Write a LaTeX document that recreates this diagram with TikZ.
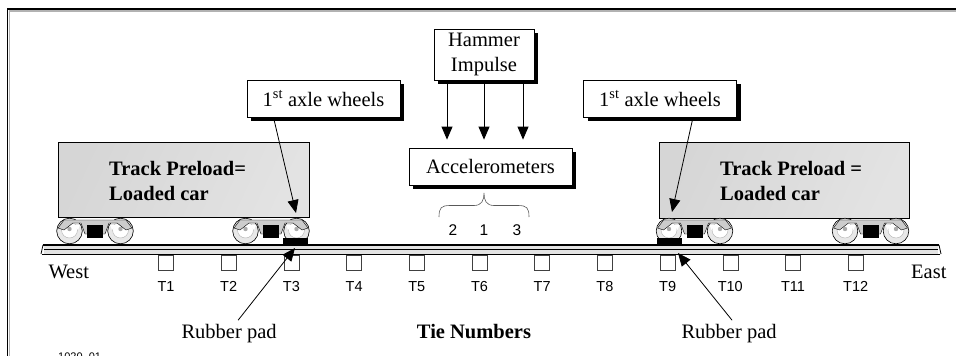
\documentclass[tikz,border=0pt]{standalone}
\usepackage{fontspec}
\setmainfont{Liberation Serif}
\newfontfamily\arialfont{Liberation Sans}
\usetikzlibrary{arrows.meta,calc,positioning,shadows}
\tikzset{
    mybox/.style={draw=black,fill=white,line width=0.8pt,inner sep=0pt,
      drop shadow={shadow xshift=4pt,shadow yshift=-4pt,fill=black,opacity=1}},
    mycar/.style={draw=black,line width=0.6pt,left color=gray!32,middle color=gray!4,
      right color=gray!22,shading angle=65,inner sep=0pt,anchor=north west},
    mytie/.style={draw=black!75,fill=white,line width=0.6pt,minimum size=15pt,inner sep=0pt},
    mypad/.style={fill=black,inner sep=0pt,minimum width=25pt,minimum height=6pt},
    myarrow/.style={-{Triangle[length=13pt,width=11pt]},line width=0.8pt},
    serif/.style={font=\fontsize{20.5}{25}\selectfont},
    boldtext/.style={font=\fontsize{20.5}{25}\selectfont\bfseries},
    sans/.style={font=\arialfont\fontsize{14.5}{17}\selectfont},
    bogie/.pic={
      \foreach \s in {-1,1}{
        \draw[fill=gray!18,line width=0.6pt] (\s*25.5,0) circle (12.8pt);
        \draw[fill=white,draw=gray!60] (\s*25.5,-1) circle (8pt);
        \fill[gray!65] (\s*25.5,-2) circle (2.2pt);
      }
      \filldraw[fill=gray!40,draw=black,line width=0.4pt]
        (-37,-3) -- (-31,-11) -- (31,-11) -- (37,-3) -- (31,-1) -- (22,-8) -- (14,-8)
        -- (10,3) -- (-10,3) -- (-14,-8) -- (-22,-8) -- (-31,-1) -- cycle;
      \fill[white] (-21,-6) -- (-15,-6) -- (-17,-1) -- cycle;
      \fill[white] (21,-6) -- (15,-6) -- (17,-1) -- cycle;
      \fill[black] (-8,-6) rectangle (8,7);
    }
}

\begin{document}
\begin{tikzpicture}[x=1pt,y=-1pt]
  \useasboundingbox (0,0) rectangle (956,356);

  % frame
  \draw[gray!60,line width=1.2pt] (9.5,356) -- (9.5,11) -- (956,11);
  \draw[line width=1.5pt] (7.5,356) -- (7.5,9) -- (956,9);

  % loaded cars
  \node[mycar,minimum width=251pt,minimum height=75pt] (carW) at (58,142) {};
  \node[mycar,minimum width=250pt,minimum height=76pt] (carE) at (659,142) {};
  \node[boldtext,align=left,inner sep=0pt,anchor=north west] (loadW)
    at (109,161) {Track Preload=\\Loaded car};
  \node[boldtext,align=left,inner sep=0pt,anchor=north west] (loadE)
    at (720,161) {Track Preload =\\Loaded car};

  \foreach \bx in {95,271,694.5,870.5}{
    \pic at (\bx,231) {bogie};
  }

  % rail
  \fill[gray!22] (44,244) rectangle (938,254);
  \draw[line width=1.6pt] (43,245) -- (939,245);
  \draw[line width=0.7pt] (44,249.5) -- (938,249.5);
  \draw[line width=1pt] (42,254) -- (940,254);
  \draw[line width=0.8pt] (43,245) -- (41,254);
  \draw[line width=0.8pt] (939,245) -- (941,254);

  \node[mypad] (padW) at (295.5,241) {};
  \node[mypad] (padE) at (669,241) {};

  % ties
  \foreach \i in {1,...,12}{
    \node[mytie] (t\i) at ({166+62.7*(\i-1)},262.5) {};
    \node[sans,below=8pt of t\i] (tl\i) {T\i};
  }

  \node[serif,anchor=base west] (west) at (45,278) {West};
  \node[serif,anchor=base east] (east) at (950,278) {East};

  % hammer and sensors
  \node[mybox,serif,minimum width=100pt,minimum height=51pt,align=center]
    (hammer) at (484,54.5) {Hammer\\Impulse};
  \node[mybox,serif,minimum width=163pt,minimum height=37pt]
    (accel) at (490.5,166.5) {Accelerometers};

  \foreach \x in {447,484,523}{
    \coordinate (h\x) at (\x,0);
    \draw[myarrow,shorten >=8pt] (hammer.south -| h\x) -- (accel.north -| h\x);
  }

  \draw[gray!70!black,line width=0.6pt]
    (439,217) .. controls (439,208) and (441,205.5) .. (450,205.5) -- (474,205.5)
    .. controls (482,205.5) and (484,200) .. (484,193)
    .. controls (484,200) and (486,205.5) .. (494,205.5) -- (518,205.5)
    .. controls (527,205.5) and (529,208) .. (529,217);

  \node[sans,font=\arialfont\fontsize{15.5}{18}\selectfont,anchor=base] (acc2) at (453,235) {2};
  \node[sans,font=\arialfont\fontsize{15.5}{18}\selectfont,anchor=base] (acc1) at (484,235) {1};
  \node[sans,font=\arialfont\fontsize{15.5}{18}\selectfont,anchor=base] (acc3) at (517,235) {3};

  % first axle
  \node[mybox,serif,minimum width=153pt,minimum height=37pt]
    (axleW) at (323.5,98.5) {1\textsuperscript{st} axle wheels};
  \node[mybox,serif,minimum width=153pt,minimum height=37pt]
    (axleE) at (660,98.5) {1\textsuperscript{st} axle wheels};
  \coordinate (wheelW) at (296,213);
  \coordinate (wheelE) at (672,212);
  \draw[myarrow] ([xshift=-50pt]axleW.south) -- (wheelW);
  \draw[myarrow] ([xshift=33pt]axleE.south) -- (wheelE);

  % pads and labels
  \node[serif,anchor=base west] (rpW) at (178,338) {Rubber pad};
  \node[serif,anchor=base west] (rpE) at (678,338) {Rubber pad};
  \node[boldtext,anchor=base] (tienum) at (474,338) {Tie Numbers};
  \coordinate (tipW) at (295,248);
  \coordinate (tipE) at (678,253);
  \draw[myarrow] ([xshift=9pt]rpW.north) -- (tipW);
  \draw[myarrow] ([xshift=3pt]rpE.north) -- (tipE);

  \node[font=\arialfont\fontsize{11}{13}\selectfont,anchor=north west,inner sep=0pt]
    (figid) at (58,352.5) {1020\_01};
\end{tikzpicture}
\end{document}
